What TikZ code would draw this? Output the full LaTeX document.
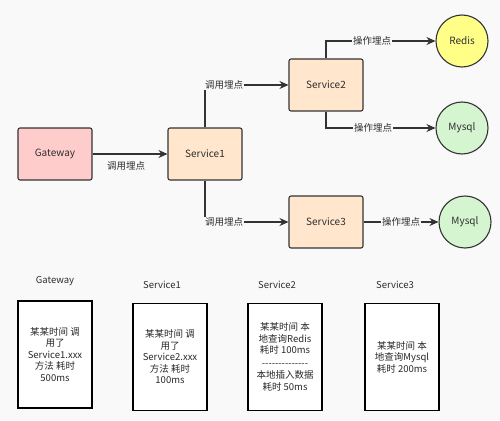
\documentclass[tikz,border=0pt]{standalone}
\usepackage{fontspec}
\setmainfont{Noto Sans CJK SC}
\usetikzlibrary{arrows.meta}
\definecolor{bg}{HTML}{F9F9F9}
\definecolor{ink}{HTML}{333333}
\definecolor{gwfill}{HTML}{FFCCCC}
\definecolor{svfill}{HTML}{FFE6CC}
\definecolor{rdfill}{HTML}{FFFF88}
\definecolor{myfill}{HTML}{D5F5D0}
\tikzset{
  box/.style={draw=ink, line width=1.1pt, rounded corners=2pt, minimum width=74pt, minimum height=52pt, font=\fontsize{10}{11}\selectfont, text=ink!90!black},
  db/.style={circle, draw=ink, line width=1.1pt, minimum size=52pt, inner sep=0pt, font=\fontsize{10}{11}\selectfont, text=ink!90!black},
  conn/.style={draw=ink, line width=1.1pt, -{Stealth[length=9pt,width=8pt]}},
  lbl/.style={fill=bg, inner sep=1pt, font=\fontsize{9.5}{11}\selectfont, text=ink!90!black},
  note/.style={draw=black, line width=1.1pt, fill=white, minimum width=74pt, minimum height=107pt, align=center, font=\fontsize{9.5}{11.5}\selectfont, text=ink!80!black, inner sep=2pt},
  title/.style={font=\fontsize{9.5}{11}\selectfont, text=ink!90!black}
}
\begin{document}
\begin{tikzpicture}[x=1pt,y=-1pt]
\fill[bg] (0,0) rectangle (500,420);
\useasboundingbox (0,0) rectangle (500,420);
% main nodes
\node[box, fill=gwfill] (gw) at (55,154) {Gateway};
\node[box, fill=svfill] (s1) at (205,154) {Service1};
\node[box, fill=svfill] (s2) at (326,85) {Service2};
\node[box, fill=svfill] (s3) at (326,222) {Service3};
\node[db, fill=rdfill] (redis) at (462,41) {Redis};
\node[db, fill=myfill] (my1) at (462,128) {Mysql};
\node[db, fill=myfill] (my2) at (465,222) {Mysql};
% connectors
\draw[conn] (gw) -- (s1);
\node[lbl, fill=none] (l0) at (126,166) {调用埋点};
\draw[conn] (s1.north) |- (s2.west);
\node[lbl, anchor=west] (l1) at (204,85) {调用埋点};
\draw[conn] (s1.south) |- (s3.west);
\node[lbl, anchor=west] (l2) at (204,222) {调用埋点};
\draw[conn] (s2.north) |- (redis.west);
\node[lbl] (l3) at (372,41) {操作埋点};
\draw[conn] (s2.south) |- (my1.west);
\node[lbl] (l4) at (373,128) {操作埋点};
\draw[conn] (s3.east) -- (my2.west);
\node[lbl] (l5) at (401,222) {操作埋点};
% bottom notes
\node[title] (t1) at (55,281) {Gateway};
\node[title] (t2) at (162,285) {Service1};
\node[title] (t3) at (277,285) {Service2};
\node[title] (t4) at (395,285) {Service3};
\node[note] (n1) at (55,354.5) {某某时间 调\\用了\\Service1.xxx\\方法 耗时\\500ms};
\node[note] (n2) at (170,357) {某某时间 调\\用了\\Service2.xxx\\方法 耗时\\100ms};
\node[note] (n3) at (285,357) {某某时间 本\\地查询Redis\\耗时 100ms\\[1pt]-{}-{}-{}-{}-{}-{}-{}-{}-{}-{}-{}-{}-{}-{}\\[1pt]本地插入数据\\耗时 50ms};
\node[note] (n4) at (402,357) {某某时间 本\\地查询Mysql\\耗时 200ms};
\end{tikzpicture}
\end{document}
